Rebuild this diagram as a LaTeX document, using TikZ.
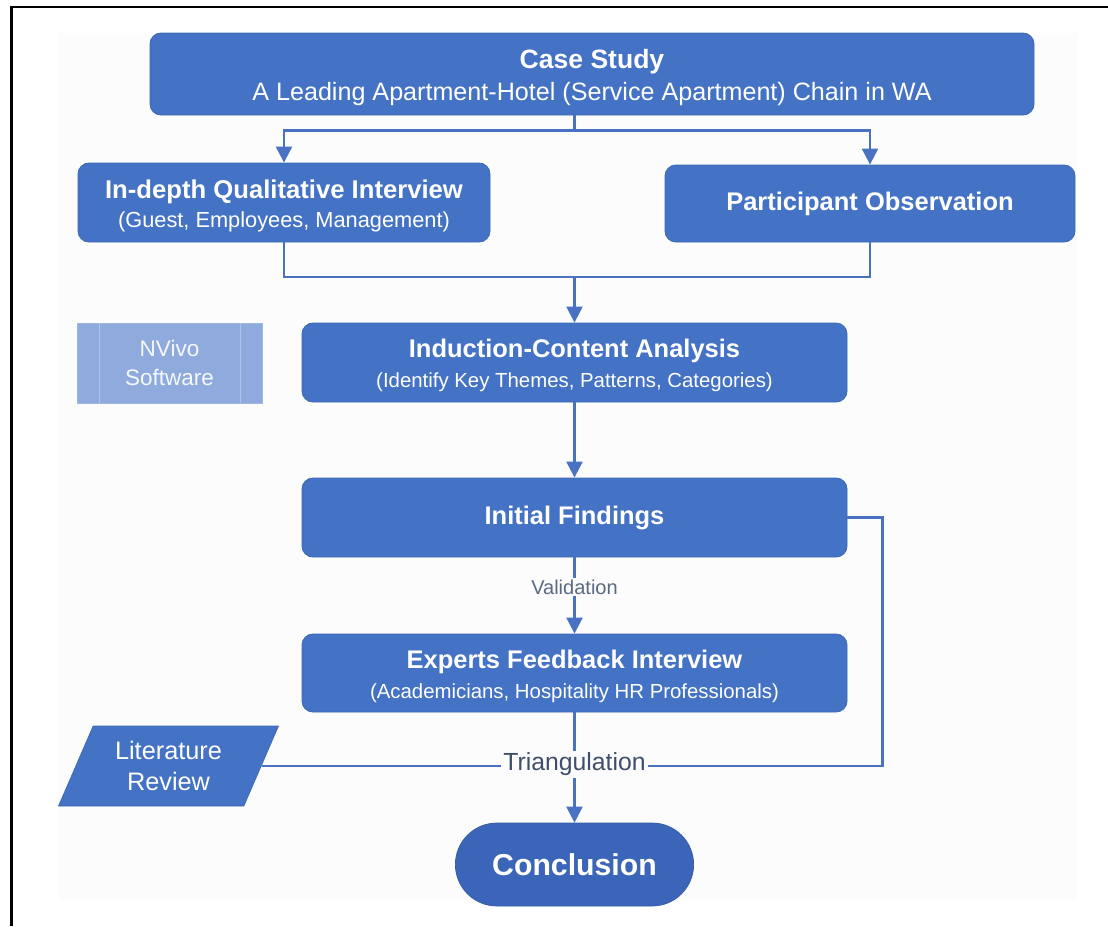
\documentclass[tikz,border=0pt]{standalone}
\usepackage{fontspec}
\setmainfont{Liberation Sans}
\usepackage{tikz}
\usetikzlibrary{arrows.meta,positioning,shapes.geometric,shapes.misc}

\definecolor{boxblue}{HTML}{4472C4}
\definecolor{concblue}{HTML}{3B65B8}
\definecolor{lineblue}{HTML}{4A72C2}
\definecolor{nvblue}{HTML}{8FAADC}
\definecolor{valgray}{HTML}{5A6A82}
\definecolor{trigray}{HTML}{3F4F6B}

\begin{document}
\begin{tikzpicture}[
  >={Triangle[length=0.32cm,width=0.32cm]},
  every node/.style={font=\fontsize{11.6}{17}\selectfont},
  blk/.style={draw=boxblue!92!black,line width=0.5pt,fill=boxblue,text=white,
              rounded corners=0.22cm,minimum width=10.9cm,minimum height=1.58cm,
              align=center,inner sep=2pt},
  hdr/.style={font=\bfseries\fontsize{14.5}{17}\selectfont},
  nvbox/.style={draw=nvblue!85!white,fill=nvblue,text=white!92!nvblue,
                minimum width=3.7cm,minimum height=1.6cm,align=center,
                font=\fontsize{12.8}{17}\selectfont},
  litbox/.style={trapezium,trapezium left angle=66,trapezium right angle=114,
                 trapezium stretches=true,fill=boxblue,draw=boxblue!92!black,text=white,
                 minimum width=4.42cm,minimum height=1.6cm,align=center,
                 font=\fontsize{14.4}{17.6}\selectfont},
  endbox/.style={rounded rectangle,fill=concblue,draw=concblue!90!black,text=white,
                 minimum width=5cm,minimum height=1.66cm,
                 font=\bfseries\fontsize{17.2}{20}\selectfont},
  conn/.style={draw=lineblue,line width=1.3pt},
  lbl/.style={inner sep=1pt}
]
\useasboundingbox (0,0) rectangle (22.16,-18.52);

%% frame and page background
\fill[black!1] (1.16,-0.66) rectangle (21.54,-18.0);
\draw[black,line width=1.2pt] (0.23,-18.52) -- (0.23,-0.14) -- (22.16,-0.14);

%% Row 1: case
\node[blk,minimum width=17.68cm,minimum height=1.64cm,
      font=\fontsize{14.3}{18.5}\selectfont] (case) at (11.84,-1.48)
  {{\bfseries\fontsize{15.1}{18.5}\selectfont\rule{0pt}{15pt}Case Study}\\
   A Leading Apartment-Hotel (Service Apartment) Chain in WA};

%% Row 2: data collection
\node[blk,minimum width=8.24cm,font=\fontsize{12.4}{16.5}\selectfont] (intv) at (5.68,-4.05)
  {{\bfseries\fontsize{14.6}{16.5}\selectfont\rule{0pt}{14pt}In-depth Qualitative Interview}\\
   (Guest, Employees, Management)};
\node[blk,hdr,minimum width=8.2cm,minimum height=1.54cm] (obs) at (17.40,-4.07)
  {Participant Observation};

%% Row 3: analysis
\node[nvbox] (nvivo) at (3.39,-7.26) {NVivo\\Software};
\node[blk] (ica) at (11.49,-7.25)
  {{\bfseries\fontsize{14.5}{17}\selectfont\rule{0pt}{14pt}Induction-Content Analysis}\\
   (Identify Key Themes, Patterns, Categories)};

%% Row 4-5: findings and experts
\node[blk,hdr] (init) at (11.49,-10.35) {Initial Findings};
\node[lbl,text=valgray,font=\fontsize{11.4}{14}\selectfont] (val) at (11.49,-11.74) {Validation};
\node[blk,minimum height=1.56cm] (expt) at (11.49,-13.46)
  {{\bfseries\fontsize{14.5}{17}\selectfont\rule{0pt}{14pt}Experts Feedback Interview}\\
   (Academicians, Hospitality HR Professionals)};

%% Row 6: triangulation and conclusion
\node[litbox] (lit) at (3.37,-15.32) {Literature\\Review};
\node[lbl,text=trigray,font=\fontsize{14.1}{16}\selectfont] (tri) at (11.49,-15.29) {Triangulation};
\node[endbox] (conc) at (11.49,-17.29) {Conclusion};

%% NVivo inner bars
\draw[nvblue!70!white,line width=0.8pt] ([xshift=0.46cm]nvivo.north west) -- ([xshift=0.46cm]nvivo.south west);
\draw[nvblue!70!white,line width=0.8pt] ([xshift=-0.44cm]nvivo.north east) -- ([xshift=-0.44cm]nvivo.south east);

%% Arrows
\draw[conn] (case.south -| ica.north) -- ++(0,-0.3) coordinate (fork);
\draw[conn,->] (fork) -| (intv.north);
\draw[conn,->] (fork) -| (obs.north);
\coordinate (join) at (11.49,-5.54);
\draw[conn] (intv.south) |- (join) -| (obs.south);
\draw[conn,->] (join) -- (ica.north);
\draw[conn,->] (ica.south) -- (init.north);
\draw[conn] (init.south) -- (val.north);
\draw[conn,->] (val.south) -- (expt.north);
\draw[conn] (expt.south) -- (tri.north);
\draw[conn,->] (tri.south) -- (conc.north);
\draw[conn] (lit.east) -- (lit.east -| tri.west);
\draw[conn] (init.east) -- ++(0.7,0) |- (tri.east |- lit.east);

\end{tikzpicture}
\end{document}
